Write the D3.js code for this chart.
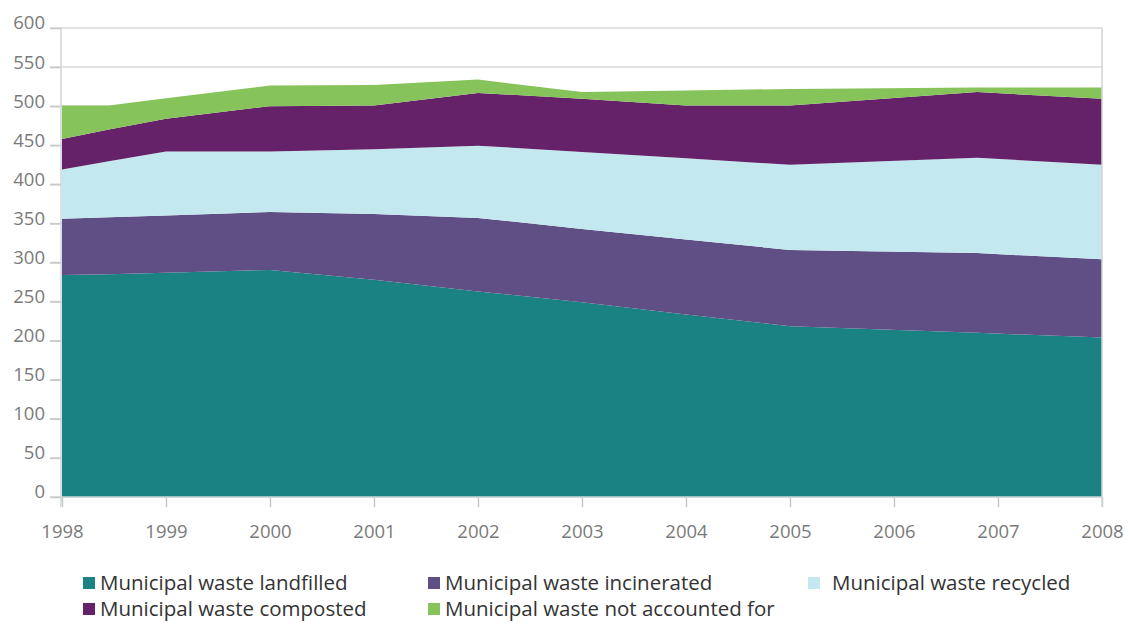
<html>
    <head>
        <script src="https://d3js.org/d3.v7.min.js"></script>
    </head>
    <body>
        <div id="chart"></div>

    <script>
    // x positions (years) where the outline bends
    var years = [1998, 1998.45, 1999, 2000, 2001, 2002, 2003, 2004, 2005, 2006.8, 2008];

    // stacked values, thousand tonnes
    var landfilled   = [284, 285, 287, 290.5, 278, 263, 249, 233.5, 218.5, 210, 204];
    var incinerated  = [72, 73, 73, 74, 84, 94, 94, 96, 97.5, 102, 100];
    var recycled     = [63, 71.5, 82, 77.5, 83, 92.5, 98.5, 104, 109, 122, 121];
    var composted    = [39, 40.5, 42, 58, 56, 67.5, 68, 67.5, 76, 84, 84.5];
    var notAccounted = [43, 31, 26, 26.5, 26, 17, 8.5, 19, 21, 6, 14.5];

    var seriesNames = [
        'Municipal waste landfilled',
        'Municipal waste incinerated',
        'Municipal waste recycled',
        'Municipal waste composted',
        'Municipal waste not accounted for'
    ];
    var colors = ['#1a8283', '#5f4f85', '#c3e8f0', '#652268', '#86c35a'];

    var xTicks = [1998, 1999, 2000, 2001, 2002, 2003, 2004, 2005, 2006, 2007, 2008];
    var yTicks = [0, 50, 100, 150, 200, 250, 300, 350, 400, 450, 500, 550, 600];

    var width = 1129,
    height = 622;

    var svg = d3.select('#chart')
    .append('svg')
    .attr('width', width)
    .attr('height', height);

    var xScale = d3.scaleLinear().domain([1998, 2008]).range([62, 1102]);
    var yScale = d3.scaleLinear().domain([0, 600]).range([497, 28]);

    var table = years.map(function (yr, i) {
        return {
            year: yr,
            s0: landfilled[i],
            s1: incinerated[i],
            s2: recycled[i],
            s3: composted[i],
            s4: notAccounted[i]
        };
    });
    var keys = ['s0', 's1', 's2', 's3', 's4'];

    // gridlines
    svg.append('g')
    .attr('class', 'grid')
    .selectAll('line')
    .data(yTicks)
    .enter()
    .append('line')
    .attr('x1', 50)
    .attr('x2', xScale(2008))
    .attr('y1', function (d) { return yScale(d); })
    .attr('y2', function (d) { return yScale(d); });

    var stack = d3.stack().keys(keys);
    var layers = stack(table);

    var area = d3.area()
    .x(function (d) { return xScale(d.data.year); })
    .y0(function (d) { return yScale(d[0]); })
    .y1(function (d) { return yScale(d[1]); });

    svg.append('g')
    .selectAll('path')
    .data(layers)
    .enter()
    .append('path')
    .attr('d', area)
    .style('fill', function (d, i) { return colors[i]; });

    // axes
    var yAxis = d3.axisLeft(yScale).tickValues(yTicks).tickSize(11).tickPadding(5);
    svg.append('g')
    .attr('id', 'y-axis')
    .attr('transform', 'translate(61, 0)')
    .call(yAxis)
    .call(function (g) { g.select('.domain').remove(); })
    .selectAll('text')
    .attr('y', -5);

    var xAxis = d3.axisBottom(xScale).tickValues(xTicks).tickSize(10).tickPadding(18).tickFormat(d3.format('d'));
    svg.append('g')
    .attr('id', 'x-axis')
    .attr('transform', 'translate(0, 497)')
    .call(xAxis)
    .call(function (g) { g.select('.domain').remove(); });

    svg.append('line')
    .attr('class', 'frame')
    .attr('x1', 61).attr('x2', 61)
    .attr('y1', yScale(600)).attr('y2', 507);
    svg.append('line')
    .attr('class', 'frame')
    .attr('x1', xScale(2008)).attr('x2', xScale(2008))
    .attr('y1', yScale(600)).attr('y2', 507);
    svg.append('line')
    .attr('class', 'frame')
    .attr('x1', 61).attr('x2', xScale(2008))
    .attr('y1', yScale(0)).attr('y2', yScale(0));

    // legend, order as in the original
    var legendItems = [
        { i: 0, x: 83, y: 583 },
        { i: 1, x: 428, y: 583 },
        { i: 2, x: 808, y: 583 },
        { i: 3, x: 83, y: 609 },
        { i: 4, x: 428, y: 609 }
    ];
    var legend = svg.append('g')
    .selectAll('g')
    .data(legendItems)
    .enter()
    .append('g')
    .attr('transform', function (d) { return 'translate(' + d.x + ',' + d.y + ')'; });

    legend.append('rect')
    .attr('x', 0)
    .attr('y', -6)
    .attr('width', 12)
    .attr('height', 12)
    .style('fill', function (d) { return colors[d.i]; });

    legend.append('text')
    .attr('x', d => d.i === 2 ? 24 : 17)
    .attr('y', 0)
    .attr('dy', '0.35em')
    .attr('class', 'legend-text')
    .text(function (d) { return seriesNames[d.i]; });
    </script>

    <style>
    * {
        margin: 0;
        padding: 0;
    }
    body {
        background: #fff;
        font-family: 'Open Sans', 'Noto Sans', sans-serif;
    }
    .grid line {
        stroke: #d8d8d8;
        stroke-width: 1.5;
    }
    .frame {
        stroke: #cfd4d6;
        stroke-width: 1.5;
    }
    #y-axis line, #x-axis line {
        stroke: #c8c8c8;
        stroke-width: 1.5;
    }
    #y-axis text, #x-axis text {
        font-family: 'Open Sans', 'Noto Sans', sans-serif;
        font-size: 18.5px;
        fill: #7a7a7a;
    }
    .legend-text {
        font-size: 20.5px;
        fill: #333;
    }
    </style>
    </body>
</html>
